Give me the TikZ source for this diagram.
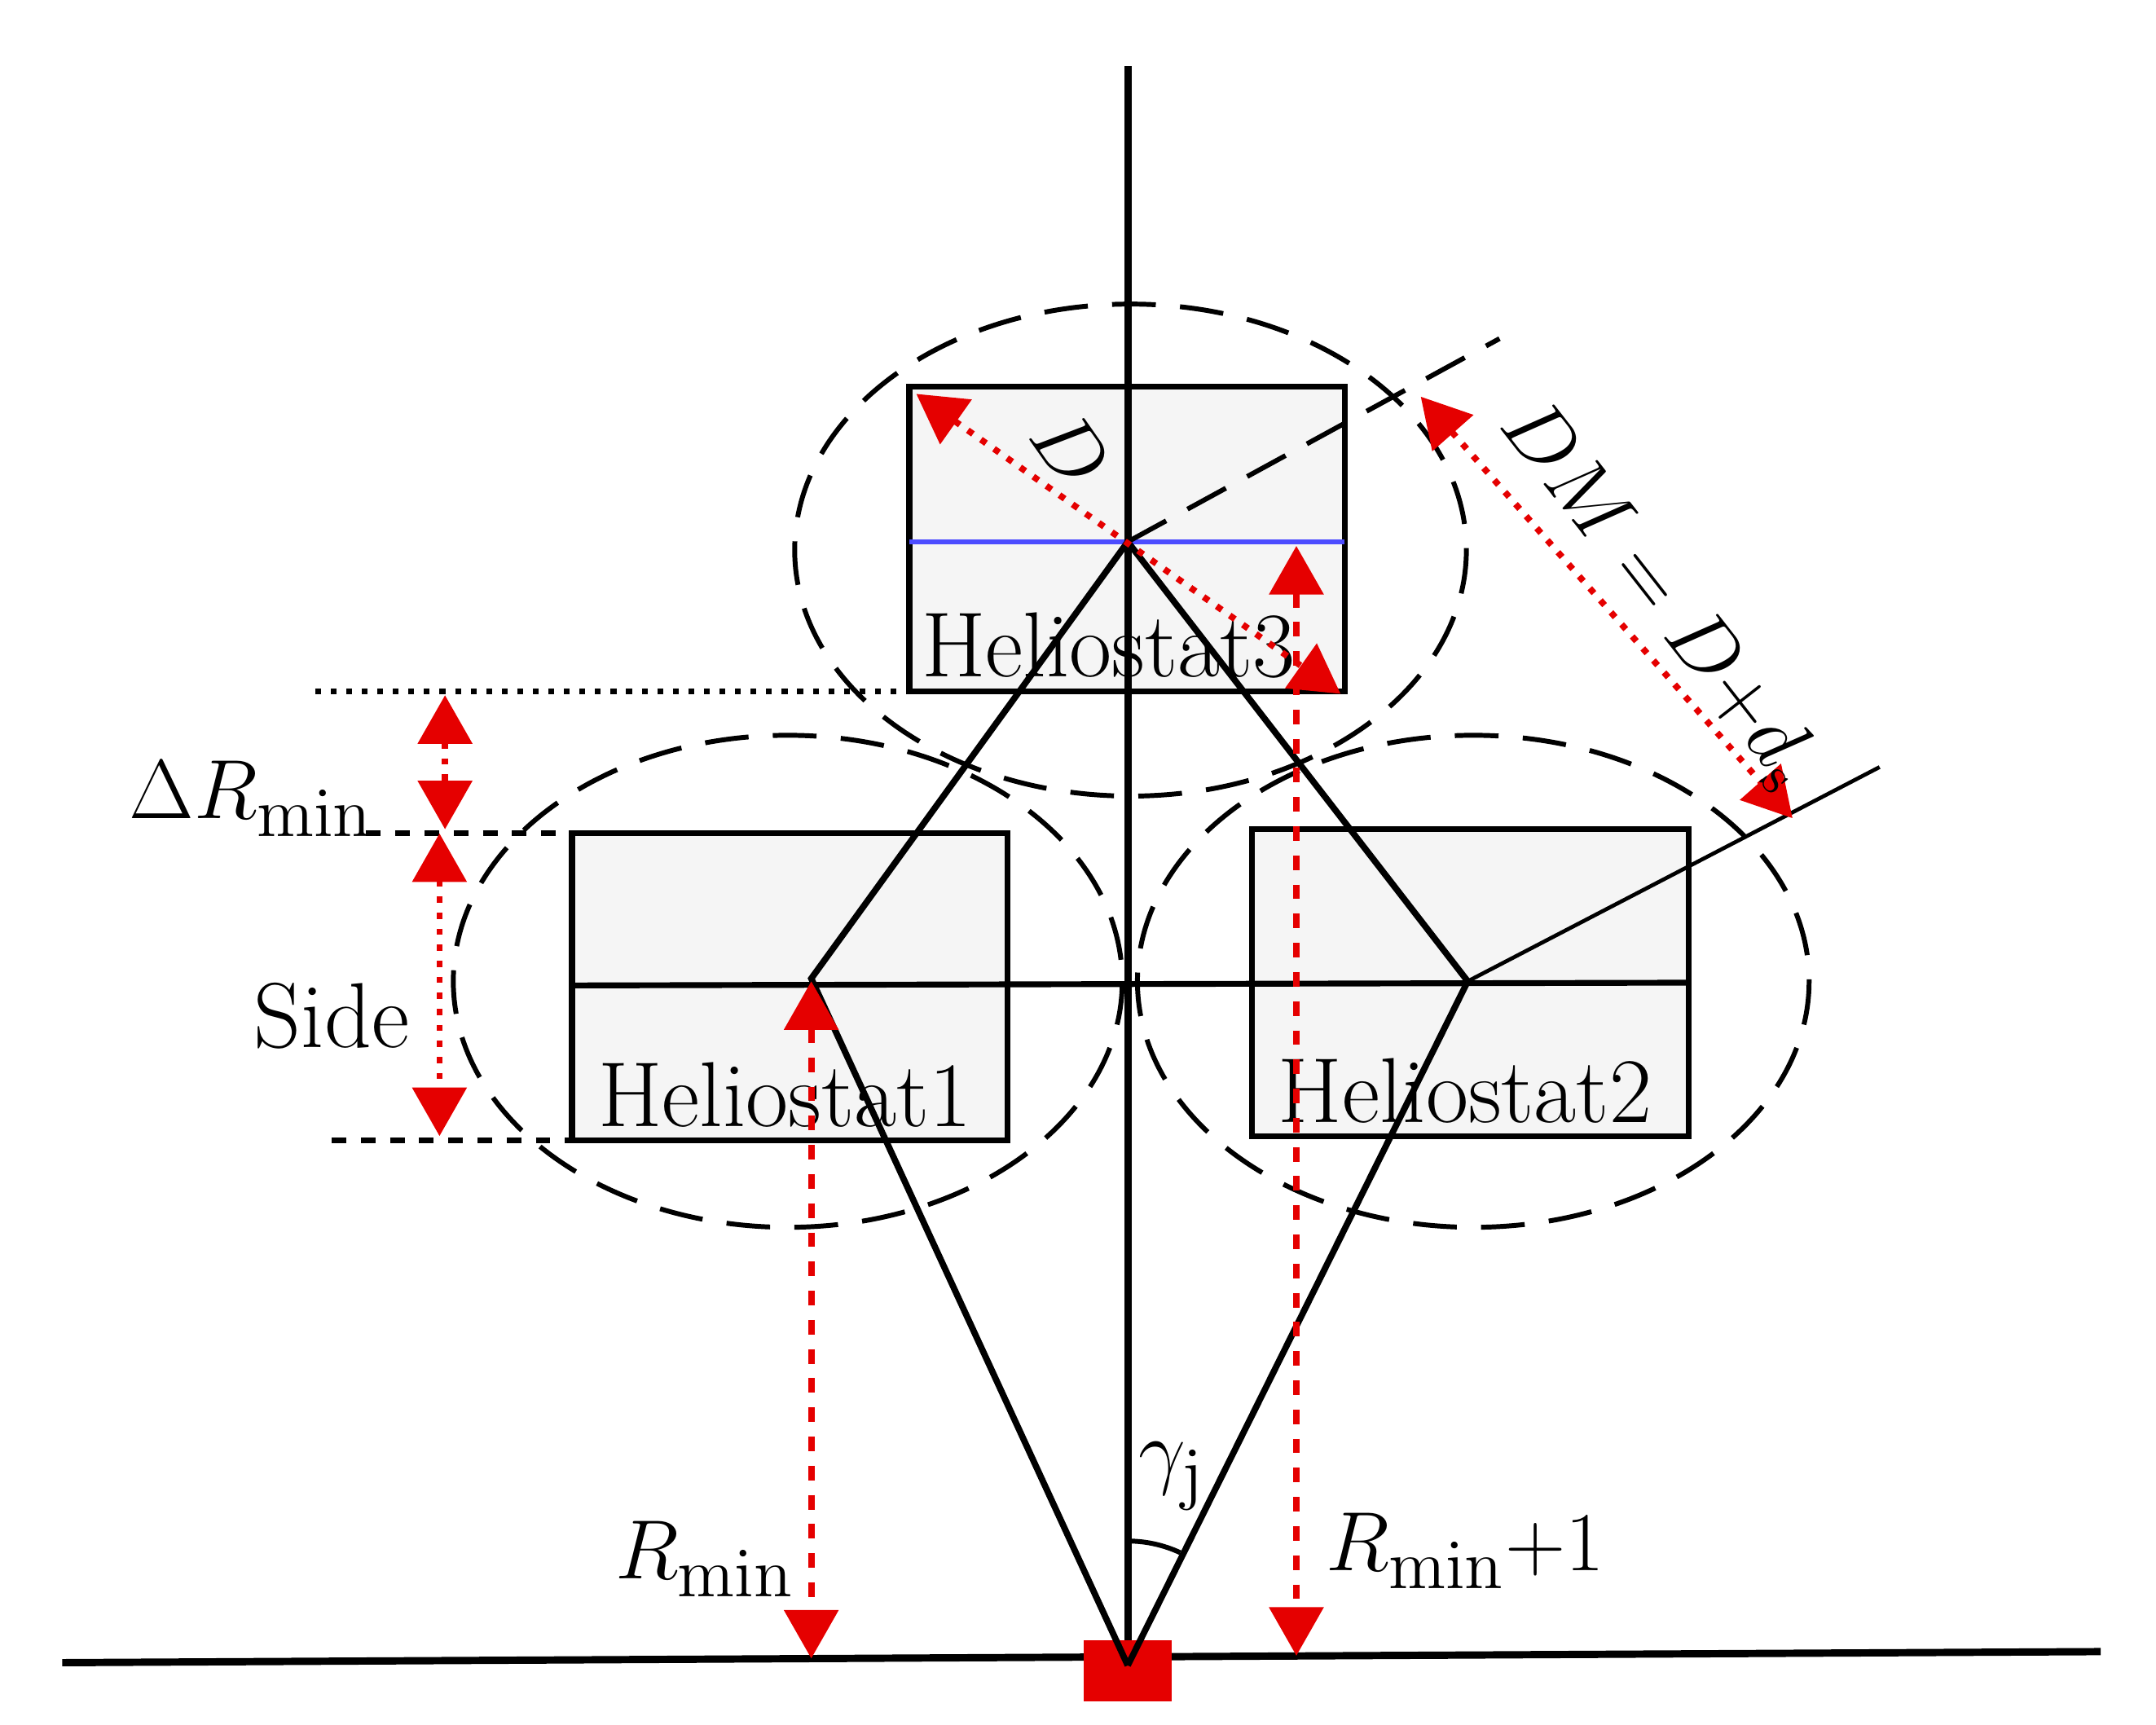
\documentclass[tikz,border=0pt]{standalone}
\usetikzlibrary{arrows.meta}
\begin{document}
\begin{tikzpicture}[x=0.01cm,y=-0.01cm,
  box/.style={draw=black,line width=1.2pt,fill=gray!8},
  circ/.style={draw=black,dashed,dash pattern=on 9pt off 5pt,line width=1pt},
  blk/.style={line width=1.3pt},
  rdot/.style={red!90!black,line width=1.3pt,dotted,{Triangle[width=11pt,length=10pt]}-{Triangle[width=11pt,length=10pt]}},
  rdash/.style={red!90!black,line width=1.3pt,dashed,{Triangle[width=11pt,length=10pt]}-{Triangle[width=11pt,length=10pt]}},
  lab/.style={font=\fontsize{19}{21}\selectfont},
  big/.style={font=\fontsize{19}{22}\selectfont}]
\useasboundingbox (0,0) rectangle (1560,1248);
% boxes
\node[box,minimum width=3.15cm,minimum height=2.2cm,inner sep=0] (h3) at (815.5,390) {};
\node[box,minimum width=3.15cm,minimum height=2.22cm,inner sep=0] (h1) at (571.5,714) {};
\node[box,minimum width=3.16cm,minimum height=2.22cm,inner sep=0] (h2) at (1064,711) {};
\node[lab,anchor=south] (t3) at (802,503) {Heliostat3};
\node[lab,anchor=south] (t1) at (568,828) {Heliostat1};
\node[lab,anchor=south] (t2) at (1060,825) {Heliostat2};
% circles
\draw[circ] (818,398) ellipse [x radius=243,y radius=178];
\draw[circ] (570,710) ellipse [x radius=242,y radius=178];
\draw[circ] (1066,710) ellipse [x radius=243,y radius=178];
% coordinates
\coordinate (c3) at (816,392);
\coordinate (c1) at (587,708);
\coordinate (c2) at (1062,710);
\coordinate (o) at (816,1205);
\coordinate (top) at (816,48);
% blue line
\draw[blue!70,line width=1pt] (658,392) -- (973,392);
\draw[line width=1.2pt] (414,713) -- (1222,711);
% tower axis and ground
\draw[line width=1.5pt] (top) -- (o);
\coordinate (g1) at (45,1203);
\coordinate (g2) at (1520,1195);
\draw[line width=1.5pt] (g1) -- (g2);
\node[fill=red!90!black,minimum width=0.64cm,minimum height=0.44cm,inner sep=0] (rec) at (816,1209) {};
% rays
\draw[blk] (o) -- (c1) -- (c3) -- (c2) -- (o);
\coordinate (dm1) at (1085,245);
\draw[line width=1pt,dashed,dash pattern=on 9pt off 5pt] (c3) -- (dm1);
\coordinate (dm2) at (1360,555);
\draw[line width=0.8pt] (c2) -- (dm2);
% angle arc
\draw[line width=1pt] (816,1115) arc [start angle=-90,end angle=-65,radius=90];
\node[big] (gam) at (848,1068) {$\gamma_{\mathrm{j}}$};
% D arrow
\coordinate (d1) at (663,285);
\coordinate (d2) at (970,502);
\draw[rdot] (d1) -- (d2);
\node[big,rotate=-55] (dl) at (775,325) {$D$};
% DM arrow
\coordinate (e1) at (1028,287);
\coordinate (e2) at (1297,592);
\draw[rdot] (e1) -- (e2);
\node[rotate=-52,font=\fontsize{16}{18}\selectfont] (dml) at (1200,430) {$DM=D{+}d_{\mathrm{s}}$};
% R arrows
\coordinate (r1a) at (587,710);
\coordinate (r1b) at (587,1200);
\draw[rdash] (r1a) -- (r1b);
\coordinate (r2a) at (938,395);
\coordinate (r2b) at (938,1198);
\draw[rdash] (r2a) -- (r2b);
\node[big] (rl1) at (510,1128) {$R_{\min}$};
\node[big] (rl2) at (1060,1122) {$R_{\min}{+}1$};
% left dimensioning
\coordinate (l1) at (228,500);
\coordinate (l1b) at (658,500);
\draw[dotted,line width=1.2pt] (l1) -- (l1b);
\coordinate (l2) at (265,603);
\coordinate (l2b) at (414,603);
\draw[dashed,line width=1.2pt] (l2) -- (l2b);
\coordinate (l3) at (240,825);
\coordinate (l3b) at (414,825);
\draw[dashed,line width=1.2pt] (l3) -- (l3b);
\coordinate (a1) at (322,503);
\coordinate (a2) at (322,600);
\coordinate (a3) at (318,603);
\coordinate (a4) at (318,822);
\draw[rdot] (a1) -- (a2);
\draw[rdot] (a3) -- (a4);
\node[big] (drl) at (182,578) {$\Delta R_{\min}$};
\node[lab] (side) at (240,735) {Side};
\end{tikzpicture}
\end{document}
